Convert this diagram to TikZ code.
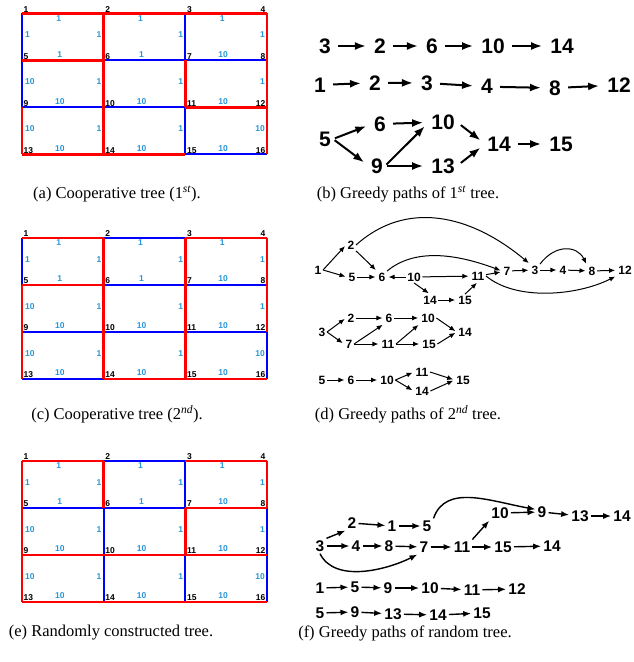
\documentclass[tikz,border=0pt]{standalone}
\usepackage{fontspec}
\setmainfont{Liberation Serif}
\setsansfont{Liberation Sans}
\usetikzlibrary{arrows.meta,calc}

\definecolor{wblue}{RGB}{40,150,215}

\begin{document}
\begin{tikzpicture}[
    x=1pt, y=-1pt,
    bedge/.style={draw=blue, line width=1.8pt},
    redge/.style={draw=red, line width=2.4pt},
    vlab/.style={font=\fontsize{8.5}{9}\selectfont\bfseries\sffamily, inner sep=0.5pt},
    wlab/.style={font=\fontsize{8.5}{9}\selectfont\bfseries\sffamily, text=wblue, inner sep=0.5pt},
    bnum/.style={font=\fontsize{21}{21}\selectfont\bfseries\sffamily, inner sep=2pt},
    dnum/.style={font=\fontsize{12}{12}\selectfont\bfseries\sffamily, inner sep=1.5pt},
    fnum/.style={font=\fontsize{15.5}{16}\selectfont\bfseries\sffamily, inner sep=2pt},
    barr/.style={-{Latex[length=11pt,width=8pt]}, line width=2pt, shorten <=5pt, shorten >=6pt},
    darr/.style={-{Latex[length=6pt,width=5pt]}, line width=1pt, shorten >=1.5pt},
    farr/.style={-{Latex[length=8pt,width=6pt]}, line width=1.4pt},
    capt/.style={font=\fontsize{16.5}{18}\selectfont, inner sep=0pt}
]
    \useasboundingbox (0,0) rectangle (634,662);

    % --- grid vertices of the three trees ---
    \foreach \g/\top in {a/13.3, c/237.7, e/460.7} {
        \foreach \i in {1,...,16} {
            \pgfmathtruncatemacro\col{mod(\i-1,4)}
            \pgfmathtruncatemacro\row{div(\i-1,4)}
            \coordinate (\g\i) at ({22+\col*81.67},{\top+\row*47});
        }
    }

    % --- all links (blue) ---
    \foreach \g in {a,c,e} {
        \foreach \i in {1,2,3,5,6,7,9,10,11,13,14,15} {
            \pgfmathtruncatemacro\j{\i+1}
            \draw[bedge] (\g\i) -- (\g\j);
        }
        \foreach \i in {1,...,12} {
            \pgfmathtruncatemacro\j{\i+4}
            \draw[bedge] (\g\i) -- (\g\j);
        }
    }

    % --- tree links (red) ---
    \foreach \u/\v in {1/2, 2/3, 3/4, 5/6, 11/12, 13/14, 14/15,
                       2/6, 4/8, 6/10, 7/11, 8/12, 9/13, 10/14, 12/16}
        \draw[redge] (a\u) -- (a\v);
    \foreach \u/\v in {1/2, 3/4, 5/6, 14/15, 15/16,
                       2/6, 3/7, 4/8, 5/9, 6/10, 7/11, 8/12, 9/13, 10/14, 11/15}
        \draw[redge] (c\u) -- (c\v);
    \foreach \u/\v in {1/2, 3/4, 7/8, 9/10, 10/11, 11/12, 13/14, 14/15, 15/16,
                       1/5, 2/6, 4/8, 5/9, 7/11, 9/13}
        \draw[redge] (e\u) -- (e\v);

    % --- vertex numbers and weights ---
    \foreach \g in {a,c,e} {
        \foreach \i in {1,2,3,5,6,7,9,10,11,13,14,15}
            \node[vlab, anchor=south west] (\g l\i) at ([shift={(1,-0.5)}]\g\i) {\i};
        \foreach \i in {4,8,12,16}
            \node[vlab, anchor=south east] (\g l\i) at ([shift={(-1,-0.5)}]\g\i) {\i};
        % top row weights sit under the line
        \foreach \i/\w in {1/1, 2/1, 3/1} {
            \pgfmathtruncatemacro\j{\i+1}
            \node[wlab, anchor=north] (\g h\i) at ($(\g\i)!0.5!(\g\j)+(-4,1.5)$) {\w};
        }
        \foreach \i/\w in {5/1, 6/1, 7/10, 9/10, 10/10, 11/10, 13/10, 14/10, 15/10} {
            \pgfmathtruncatemacro\j{\i+1}
            \node[wlab, anchor=south] (\g h\i) at ($(\g\i)!0.5!(\g\j)+(-3,-2.5)$) {\w};
        }
        \foreach \i/\w in {1/1, 5/10, 9/10} {
            \pgfmathtruncatemacro\j{\i+4}
            \node[wlab, anchor=west] (\g v\i) at ($(\g\i)!0.5!(\g\j)+(2.5,-2)$) {\w};
        }
        \foreach \i/\w in {2/1, 3/1, 4/1, 6/1, 7/1, 8/1, 10/1, 11/1, 12/10} {
            \pgfmathtruncatemacro\j{\i+4}
            \node[wlab, anchor=east] (\g v\i) at ($(\g\i)!0.5!(\g\j)+(-1.5,-2)$) {\w};
        }
    }

    % --- (b) greedy paths of 1st tree ---
    \node[bnum] (b1n3) at (325,46) {3};
    \node[bnum] (b1n2) at (380,46) {2};
    \node[bnum] (b1n6) at (432,46) {6};
    \node[bnum] (b1n10) at (493,46) {10};
    \node[bnum] (b1n14) at (562,46) {14};
    \draw[barr] (b1n3) -- (b1n2);
    \draw[barr] (b1n2) -- (b1n6);
    \draw[barr] (b1n6) -- (b1n10);
    \draw[barr] (b1n10) -- (b1n14);

    \node[bnum] (b2n1) at (320,85) {1};
    \node[bnum] (b2n2) at (375,82.7) {2};
    \node[bnum] (b2n3) at (427,83) {3};
    \node[bnum] (b2n4) at (487,86.7) {4};
    \node[bnum] (b2n8) at (555,88) {8};
    \node[bnum] (b2n12) at (619,85) {12};
    \draw[barr] (b2n1) -- (b2n2);
    \draw[barr] (b2n2) -- (b2n3);
    \draw[barr] (b2n3) -- (b2n4);
    \draw[barr] (b2n4) -- (b2n8);
    \draw[barr] (b2n8) -- (b2n12);

    \node[bnum] (b3n5) at (325,139) {5};
    \node[bnum] (b3n6) at (380,124) {6};
    \node[bnum] (b3n9) at (377,166) {9};
    \node[bnum] (b3n10) at (443,122) {10};
    \node[bnum] (b3n13) at (443,166) {13};
    \node[bnum] (b3n14) at (499,144) {14};
    \node[bnum] (b3n15) at (561,144) {15};
    \draw[barr, shorten <=2pt] (b3n5.east) -- (b3n6.west);
    \draw[barr, shorten <=2pt] (b3n5.east) -- (b3n9.west);
    \draw[barr] (b3n6) -- (b3n10);
    \draw[barr, shorten <=2pt] (b3n9.east) -- (b3n10.west);
    \draw[barr, shorten <=2pt] (b3n9) -- (b3n13);
    \draw[barr] (b3n10.east) -- (b3n14.west);
    \draw[barr] (b3n13.east) -- (b3n14.west);
    \draw[barr] (b3n14) -- (b3n15);

    % --- (d) greedy paths of 2nd tree ---
    \node[dnum] (d1n1) at (318,270) {1};
    \node[dnum] (d1n2) at (351,245) {2};
    \node[dnum] (d1n5) at (352,277) {5};
    \node[dnum] (d1n6) at (382,277) {6};
    \node[dnum] (d1n10) at (414,277) {10};
    \node[dnum] (d1n11) at (478,276) {11};
    \node[dnum] (d1n14) at (430,300) {14};
    \node[dnum] (d1n15) at (465,300) {15};
    \node[dnum] (d1n7) at (507,271) {7};
    \node[dnum] (d1n3) at (535,270) {3};
    \node[dnum] (d1n4) at (563,270) {4};
    \node[dnum] (d1n8) at (592,271) {8};
    \node[dnum] (d1n12) at (625,270) {12};
    \draw[darr] (d1n1.east) -- (d1n2.west);
    \draw[darr] (d1n1.east) -- (d1n5.west);
    \draw[darr] (d1n2.south east) -- (d1n6.north west);
    \draw[darr] (d1n5) -- (d1n6);
    \draw[darr] (d1n10) -- (d1n6);
    \draw[darr] (d1n10) -- (d1n11);
    \draw[darr] (d1n10.south) -- (d1n14.north);
    \draw[darr] (d1n14) -- (d1n15);
    \draw[darr] (d1n15.north) -- (d1n11.south);
    \draw[darr] (d1n11) -- (d1n7);
    \draw[darr] (d1n7) -- (d1n3);
    \draw[darr] (d1n3) -- (d1n4);
    \draw[darr] (d1n4) -- (d1n8);
    \draw[darr] (d1n8) -- (d1n12);
    \draw[darr] (d1n2.east) .. controls +(50,-45) and +(-60,-50) .. (d1n3.north west);
    \draw[darr] (d1n6.north east) .. controls +(30,-25) and +(-40,-15) .. (d1n7.west);
    \draw[darr] (d1n3.north east) .. controls +(15,-20) and +(-10,-20) .. (d1n8.north west);
    \draw[darr] (d1n11.east) .. controls +(30,25) and +(-40,20) .. (d1n12.south west);

    \node[dnum] (d2n3) at (322,332) {3};
    \node[dnum] (d2n2) at (351,318) {2};
    \node[dnum] (d2n7) at (349,344) {7};
    \node[dnum] (d2n6) at (389,318) {6};
    \node[dnum] (d2n11) at (388,344) {11};
    \node[dnum] (d2n10) at (428,318) {10};
    \node[dnum] (d2n15) at (429,344) {15};
    \node[dnum] (d2n14) at (465,332) {14};
    \draw[darr] (d2n3.east) -- (d2n2.west);
    \draw[darr] (d2n3.east) -- (d2n7.west);
    \draw[darr] (d2n2) -- (d2n6);
    \draw[darr] (d2n7.east) -- (d2n6.south west);
    \draw[darr] (d2n7) -- (d2n11);
    \draw[darr] (d2n6) -- (d2n10);
    \draw[darr] (d2n11.east) -- (d2n10.south west);
    \draw[darr] (d2n11) -- (d2n15);
    \draw[darr] (d2n10.east) -- (d2n14.west);
    \draw[darr] (d2n15.east) -- (d2n14.west);

    \node[dnum] (d3n5) at (322,380) {5};
    \node[dnum] (d3n6) at (351,380) {6};
    \node[dnum] (d3n10) at (387,380) {10};
    \node[dnum] (d3n11) at (422,372) {11};
    \node[dnum] (d3n14) at (422,391) {14};
    \node[dnum] (d3n15) at (463,380) {15};
    \draw[darr] (d3n5) -- (d3n6);
    \draw[darr] (d3n6) -- (d3n10);
    \draw[darr] (d3n10.east) -- (d3n11.west);
    \draw[darr] (d3n10.east) -- (d3n14.west);
    \draw[darr] (d3n11.east) -- (d3n15.west);
    \draw[darr] (d3n14.east) -- (d3n15.west);

    % --- (f) greedy paths of random tree ---
    \node[fnum] (f1n10) at (500,513) {10};
    \node[fnum] (f1n9) at (542,512) {9};
    \node[fnum] (f1n13) at (580,516) {13};
    \node[fnum] (f1n14) at (622,516) {14};
    \node[fnum] (f2n2) at (352,523) {2};
    \node[fnum] (f2n1) at (392,526) {1};
    \node[fnum] (f2n5) at (427,526) {5};
    \node[fnum] (f3n3) at (320,546) {3};
    \node[fnum] (f3n4) at (356,546) {4};
    \node[fnum] (f3n8) at (389,546) {8};
    \node[fnum] (f3n7) at (424,547) {7};
    \node[fnum] (f3n11) at (462,547) {11};
    \node[fnum] (f3n15) at (503,547) {15};
    \node[fnum] (f3n14) at (552,546) {14};
    \draw[farr] (f3n3.north east) -- (f2n2.south west);
    \draw[farr] (f3n3) -- (f3n4);
    \draw[farr] (f3n4) -- (f3n8);
    \draw[farr] (f3n8) -- (f3n7);
    \draw[farr] (f3n7) -- (f3n11);
    \draw[farr] (f3n11) -- (f3n15);
    \draw[farr] (f3n15) -- (f3n14);
    \draw[farr] (f2n2) -- (f2n1);
    \draw[farr] (f2n1) -- (f2n5);
    \draw[farr] (f3n11.north east) -- (f1n10.south west);
    \draw[farr] (f1n10) -- (f1n9);
    \draw[farr] (f1n9) -- (f1n13);
    \draw[farr] (f1n13) -- (f1n14);
    \draw[farr] (f2n5.north east) .. controls +(12,-35) and +(-45,-8) .. ([yshift=-5pt]f1n9.north west);
    \draw[farr] (f3n3.south) .. controls +(15,30) and +(-30,15) .. (f3n7.south west);

    \node[fnum] (f4n1) at (320,588) {1};
    \node[fnum] (f4n5) at (355,587) {5};
    \node[fnum] (f4n9) at (388,588) {9};
    \node[fnum] (f4n10) at (430,588) {10};
    \node[fnum] (f4n11) at (472,590) {11};
    \node[fnum] (f4n12) at (517,589) {12};
    \draw[farr] (f4n1) -- (f4n5);
    \draw[farr] (f4n5) -- (f4n9);
    \draw[farr] (f4n9) -- (f4n10);
    \draw[farr] (f4n10) -- (f4n11);
    \draw[farr] (f4n11) -- (f4n12);

    \node[fnum] (f5n5) at (320,613) {5};
    \node[fnum] (f5n9) at (355,612) {9};
    \node[fnum] (f5n13) at (393,614) {13};
    \node[fnum] (f5n14) at (438,615) {14};
    \node[fnum] (f5n15) at (482,613) {15};
    \draw[farr] (f5n5) -- (f5n9);
    \draw[farr] (f5n9) -- (f5n13);
    \draw[farr] (f5n13) -- (f5n14);
    \draw[farr] (f5n14) -- (f5n15);

    % --- captions ---
    \node[capt] (capa) at (117,194) {(a) Cooperative tree (1\textsuperscript{\itshape st}).};
    \node[capt] (capb) at (408,194) {(b) Greedy paths of 1\textsuperscript{\itshape st} tree.};
    \node[capt] (capc) at (117,414) {(c) Cooperative tree (2\textsuperscript{\itshape nd}).};
    \node[capt] (capd) at (408,414) {(d) Greedy paths of 2\textsuperscript{\itshape nd} tree.};
    \node[capt] (cape) at (111,633) {(e) Randomly constructed tree.};
    \node[capt] (capf) at (405,633) {(f) Greedy paths of random tree.};
\end{tikzpicture}
\end{document}
